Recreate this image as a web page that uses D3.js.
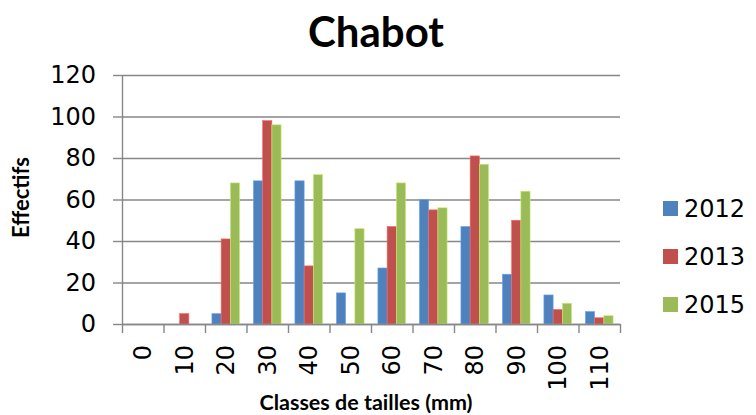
<!DOCTYPE html>
<html>
<head>
<meta charset="utf-8">
<script src="https://cdn.jsdelivr.net/npm/d3@7/dist/d3.min.js"></script>
<style>
  body { margin: 0; background: #fff; }
  .tick text { fill: #000; }
</style>
</head>
<body>
<div id="container"></div>
<script>
// data
var classes = ["0", "10", "20", "30", "40", "50", "60", "70", "80", "90", "100", "110"];
var years = ["2012", "2013", "2015"];
var v2012 = [0, 0, 5, 69, 69, 15, 27, 60, 47, 24, 14, 6];
var v2013 = [0, 5, 41, 98, 28, 0, 47, 55, 81, 50, 7, 3];
var v2015 = [0, 0, 68, 96, 72, 46, 68, 56, 77, 64, 10, 4];
var yTicks = [0, 20, 40, 60, 80, 100, 120];
var colors = ["#4F81BD", "#C0504D", "#9BBB59"];

var series = [v2012, v2013, v2015];

// margins
var margin = { top: 75, right: 136, bottom: 91, left: 122 },
	width = 756 - margin.left - margin.right,
	height = 415 - margin.top - margin.bottom;

var svg = d3.select("#container")
	.append("svg")
	.attr("width", 756)
	.attr("height", 415);

var g = svg.append("g")
	.attr("transform", "translate(" + margin.left + "," + margin.top + ")");

// scales
var x0 = d3.scaleBand().domain(classes).range([0, width]).padding(0);
var gap = x0.bandwidth() * 0.75 / 4.5;
var x1 = d3.scaleBand().domain(years).range([gap, x0.bandwidth() - gap]).padding(0);
var xEdge = d3.scaleLinear().domain([0, classes.length]).range([0, width]);
var y = d3.scaleLinear().domain([0, 120]).range([height, 0]);

// gridlines
g.append("g")
	.attr("class", "grid")
	.call(d3.axisLeft(y).tickValues(yTicks).tickSize(-width).tickFormat(""))
	.call(function(s) {
		s.select(".domain").remove();
		s.selectAll("line").attr("stroke", "#878787").attr("stroke-width", 1.4);
	});

// y axis
g.append("g")
	.attr("class", "y axis")
	.call(d3.axisLeft(y).tickValues(yTicks).tickSize(9).tickSizeOuter(0).tickPadding(17))
	.call(function(s) {
		s.select(".domain").attr("stroke", "#878787").attr("stroke-width", 1.4);
		s.selectAll("line").attr("stroke", "#878787").attr("stroke-width", 1.4);
		s.selectAll("text").style("font", "24px 'DejaVu Sans'");
	});

// bars
var groups = g.selectAll(".cls")
	.data(classes)
	.enter().append("g")
	.attr("class", "cls")
	.attr("transform", function(d) { return "translate(" + x0(d) + ",0)"; });

groups.selectAll("rect")
	.data(function(d, i) { return years.map(function(yr, k) { return { yr: yr, k: k, v: series[k][i] }; }); })
	.enter().append("rect")
	.filter(function(d) { return d.v > 0; })
	.attr("x", function(d) { return x1(d.yr); })
	.attr("width", x1.bandwidth())
	.attr("y", function(d) { return y(d.v); })
	.attr("height", function(d) { return height - y(d.v); })
	.attr("fill", function(d) { return colors[d.k]; })
	.attr("stroke", function(d) { return d3.color(colors[d.k]).brighter(0.7); })
	.attr("stroke-width", 0.6);

// x axis: line and boundary ticks
g.append("g")
	.attr("transform", "translate(0," + height + ")")
	.call(d3.axisBottom(xEdge).tickValues(d3.range(classes.length + 1)).tickSize(9).tickSizeOuter(0).tickFormat(""))
	.call(function(s) {
		s.select(".domain").attr("stroke", "#878787").attr("stroke-width", 1.4);
		s.selectAll("line").attr("stroke", "#878787").attr("stroke-width", 1.4);
	});

// x labels
g.append("g")
	.attr("class", "x axis")
	.attr("transform", "translate(0," + height + ")")
	.call(d3.axisBottom(x0).tickSize(0).tickPadding(0))
	.call(function(s) {
		s.select(".domain").remove();
		s.selectAll("text")
			.style("font", "24px 'DejaVu Sans'")
			.attr("text-anchor", "end")
			.attr("dy", "0.35em")
			.attr("transform", "translate(0,21) rotate(-90)");
	});

// titles
svg.append("text")
	.attr("x", 376)
	.attr("y", 47)
	.attr("text-anchor", "middle")
	.style("font", "bold 42px Lato")
	.text("Chabot");

svg.append("text")
	.attr("transform", "translate(29," + (margin.top + height / 2 - 2) + ") rotate(-90)")
	.attr("text-anchor", "middle")
	.style("font", "bold 22px Lato")
	.text("Effectifs");

svg.append("text")
	.attr("x", margin.left + width / 2 - 5)
	.attr("y", 410)
	.attr("text-anchor", "middle")
	.style("font", "bold 21.5px Lato")
	.text("Classes de tailles (mm)");

// legend
var legend = svg.append("g")
	.attr("transform", "translate(663,201)");

var item = legend.selectAll(".item")
	.data(years)
	.enter().append("g")
	.attr("transform", function(d, i) { return "translate(0," + (i * 48) + ")"; });

item.append("rect")
	.attr("width", 15)
	.attr("height", 15)
	.attr("fill", function(d, i) { return colors[i]; });

item.append("text")
	.attr("x", 21)
	.attr("y", 8)
	.attr("dy", "0.35em")
	.style("font", "24px 'DejaVu Sans'")
	.text(function(d) { return d; });
</script>
</body>
</html>
